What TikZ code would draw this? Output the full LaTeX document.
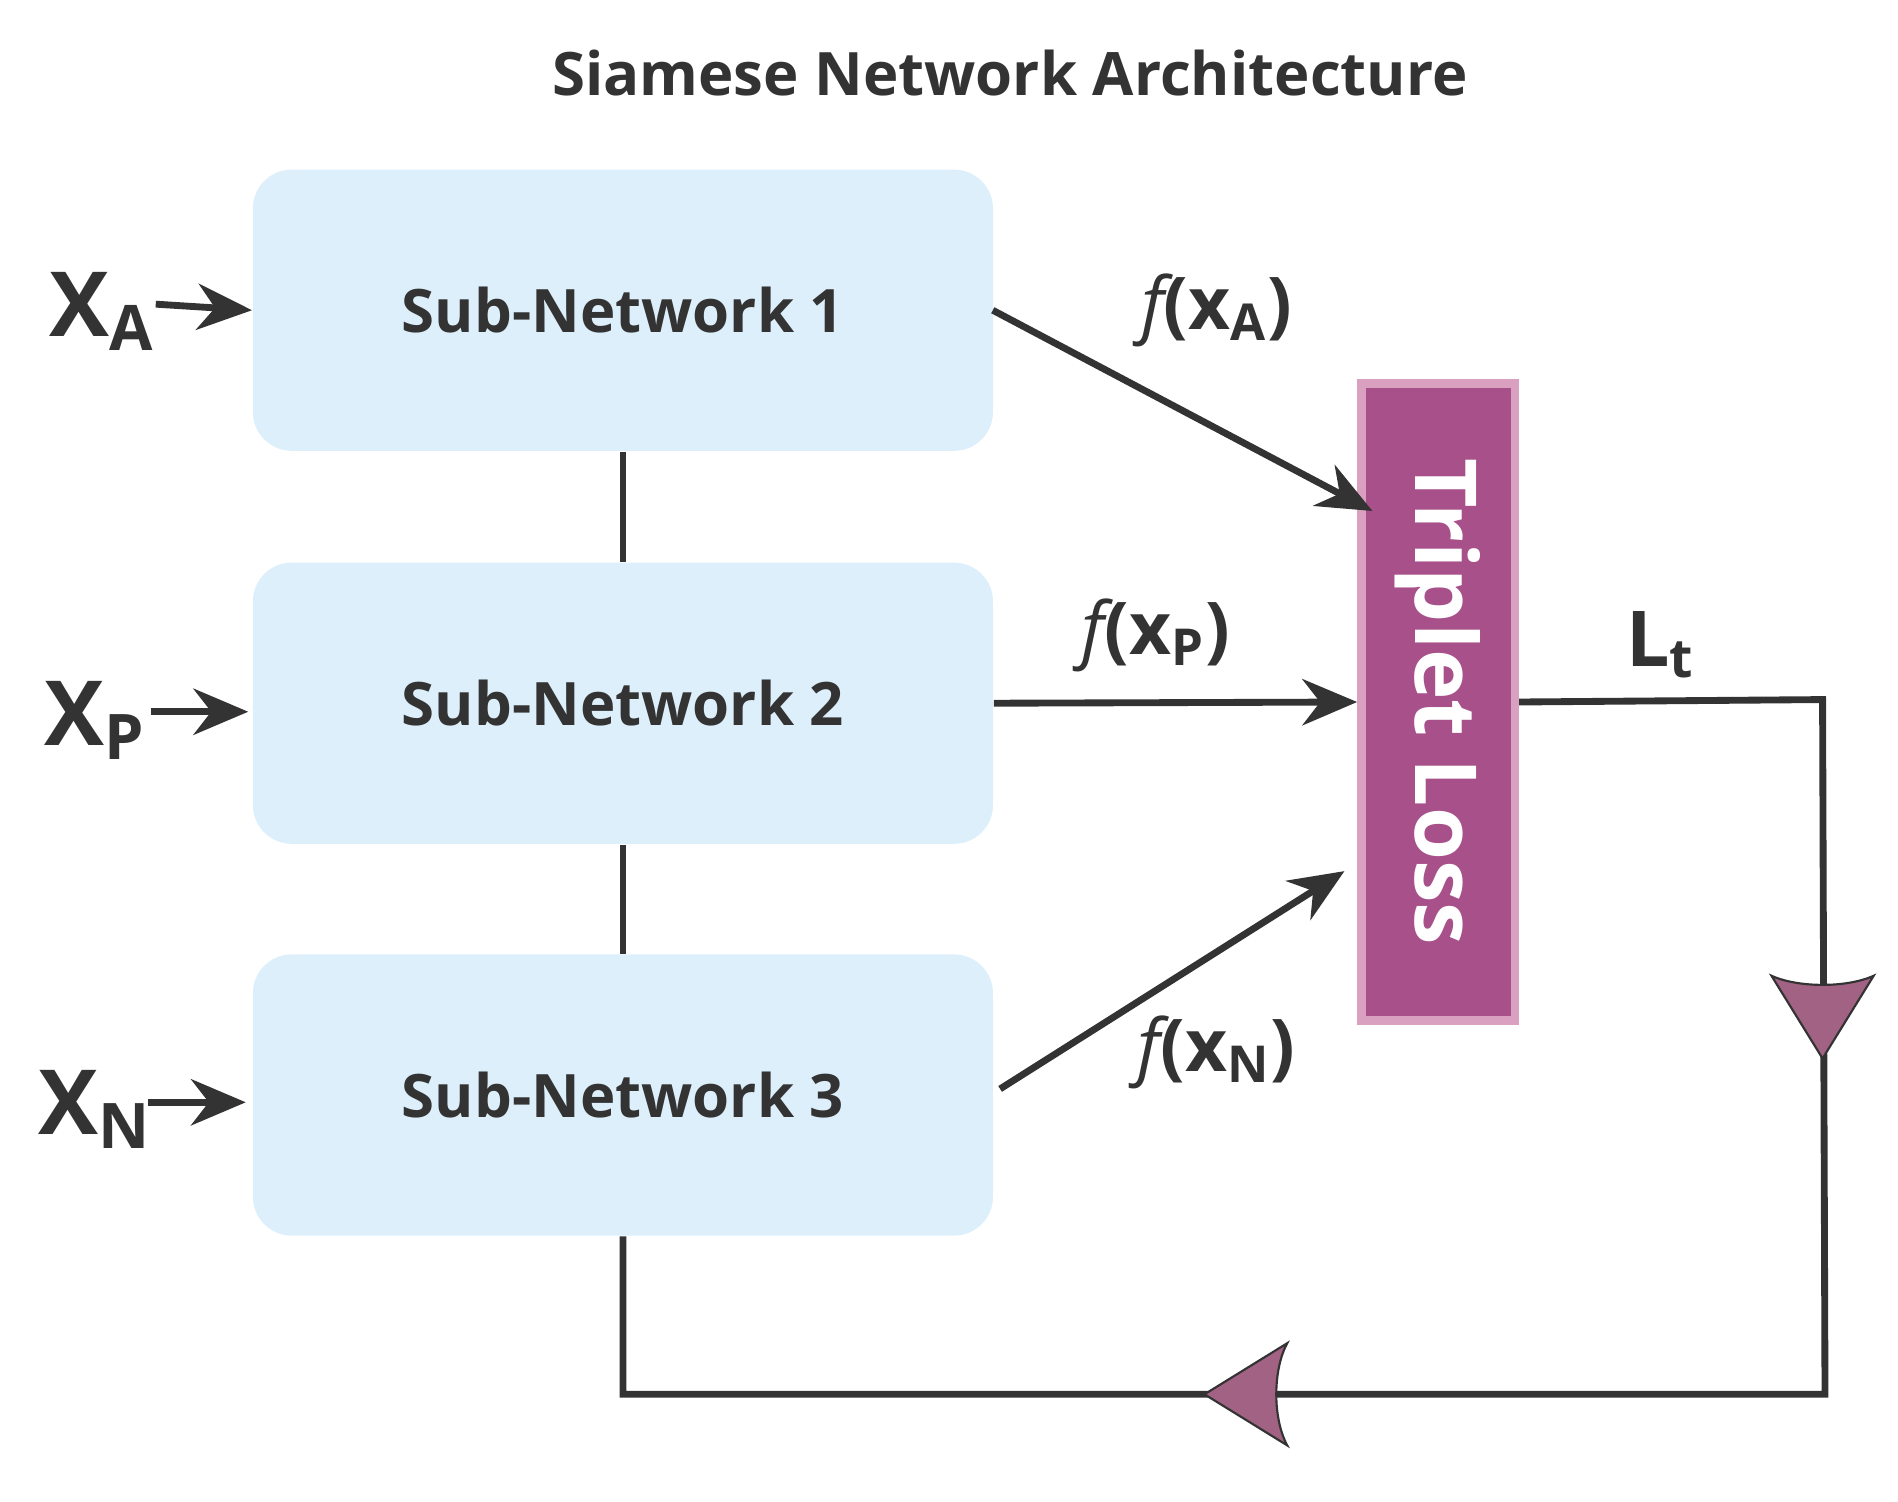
\documentclass[tikz,border=0pt]{standalone}
\usepackage{fontspec}
\setmainfont{Open Sans}
\usetikzlibrary{positioning,arrows.meta}
\definecolor{netblue}{HTML}{DCEFFA}
\definecolor{lossfill}{HTML}{A8508A}
\definecolor{lossedge}{HTML}{D9A0C0}
\definecolor{markfill}{HTML}{A26284}
\definecolor{ink}{HTML}{333333}
\tikzset{
  subnet/.style={draw=none,fill=netblue,rounded corners=0.32cm,minimum width=6.08cm,minimum height=2.31cm,
    font=\fontsize{14}{16}\selectfont\bfseries,text=ink},
  inp/.style={font=\fontsize{21}{24}\selectfont\bfseries,text=ink,inner sep=0pt},
  feat/.style={font=\fontsize{17}{20}\selectfont\bfseries,text=ink},
  conn/.style={line width=1.6pt,draw=ink},
  arr/.style={conn,-{Stealth[length=0.45cm,width=0.38cm]}},
  flowmark/.style={fill=markfill,draw=ink,line width=0.5pt}
}
\newcommand{\fx}[1]{$\mathit{f}$(x\textsubscript{#1})}
\begin{document}
\begin{tikzpicture}[x=0.01cm,y=-0.01cm]
\useasboundingbox (0,0) rectangle (1560,1234);
\node[font=\fontsize{14}{16}\selectfont\bfseries,text=ink] (title) at (830,60) {Siamese Network Architecture};
% sub-networks
\node[subnet] (net1) at (512,255) {Sub-Network 1};
\node[subnet] (net2) at (512,578) {Sub-Network 2};
\node[subnet] (net3) at (512,900) {Sub-Network 3};
\draw[conn] (net1.south) -- (net2.north);
\draw[conn] (net2.south) -- (net3.north);
% inputs
\node[inp] (xa) at (84,256) {X\textsubscript{A}};
\node[inp] (xp) at (78,592) {X\textsubscript{P}};
\node[inp] (xn) at (78,912) {X\textsubscript{N}};
\draw[arr] (128,250) -- (net1.west);
\draw[arr] (124,585) -- (204,585);
\draw[arr] (122,906) -- (202,906);
% loss
\node[fill=lossfill,draw=lossedge,line width=2pt,minimum width=1.26cm,minimum height=5.23cm] (loss) at (1182,577) {};
\node[rotate=-90,text=white,font=\fontsize{20}{24}\selectfont\bfseries] (losstext) at (loss.center) {Triplet Loss};
\coordinate (ina) at (1128,420);
\coordinate (inn) at (1105,716);
\draw[arr] (816,255) -- (ina);
\draw[arr] (net2.east) -- (loss.west);
\draw[arr] (822,895) -- (inn);
\node[feat] (fa) at (1000,255) {\fx{A}};
\node[feat] (fp) at (950,522) {\fx{P}};
\node[feat] (fn) at (1000,865) {\fx{N}};
\node[font=\fontsize{18}{20}\selectfont\bfseries,text=ink] (lt) at (1365,530) {L\textsubscript{t}};
% feedback
\coordinate (c1) at (1498,575);
\coordinate (c2) at (1500,1146);
\coordinate (c3) at (512,1146);
\draw[conn] (loss.east) -- (c1) -- (c2) -- (c3) -- (net3.south);
\draw[flowmark] (1498,870) -- (1456,802) .. controls (1478,812) and (1518,812) .. (1540,802) -- cycle;
\draw[flowmark] (990,1146) -- (1058,1104) .. controls (1046,1126) and (1046,1166) .. (1058,1188) -- cycle;
\end{tikzpicture}
\end{document}
